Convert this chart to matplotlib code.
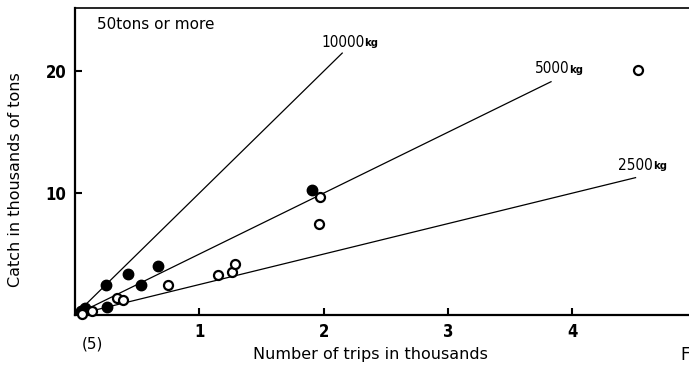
import matplotlib.pyplot as plt
from matplotlib import font_manager

# Catch vs. number of trips, vessels of 50 tons or more
trips_filled = [0.05, 0.08, 0.25, 0.26, 0.43, 0.53, 0.67, 1.91]
catch_filled = [0.35, 0.55, 2.45, 0.65, 3.4, 2.45, 4.0, 10.3]
trips_open = [0.06, 0.14, 0.34, 0.39, 0.75, 1.15, 1.26, 1.29, 1.96, 1.97, 4.53]
catch_open = [0.05, 0.35, 1.4, 1.25, 2.5, 3.3, 3.5, 4.2, 7.5, 9.7, 20.1]

# catch per trip reference lines (tons per trip)
rates = [10, 5, 2.5]
rate_labels = ["10000", "5000", "2500"]
line_end = [2.15, 3.83, 4.51]
label_pos = [(1.98, 22.4), (3.70, 20.2), (4.37, 12.3)]

# pick a condensed face for the numbers if one is around
fonts = font_manager.fontManager.ttflist
narrow = dict(family="DejaVu Sans", stretch="normal")
for f in fonts:
    if f.name == "Liberation Sans Narrow":
        narrow = dict(family=f.name, stretch="normal")
        break
else:
    for f in fonts:
        if f.name == "DejaVu Sans" and "Condensed" in f.fname:
            narrow = dict(family="DejaVu Sans", stretch="condensed")
            break

plt.rcParams['font.family'] = ['DejaVu Sans']

fig = plt.figure(figsize=(6.89, 3.68), dpi=100)
ax = fig.add_axes([75/689, 53/368, 614/689, 307/368])

for r, xe in zip(rates, line_end):
    ax.plot([0, xe], [0, r * xe], color='black', lw=0.9)

ax.plot(trips_filled, catch_filled, 'o', ms=7.5, color='black', clip_on=False, zorder=3)
ax.plot(trips_open, catch_open, 'o', ms=6.5, mfc='white', mec='black', mew=1.6,
        clip_on=False, zorder=3)

for lab, (lx, ly) in zip(rate_labels, label_pos):
    t = ax.text(lx, ly, lab, fontsize=11, va='center', ha='left', **narrow)
    ax.annotate("kg", xy=(1.0, 0.12), xycoords=t, fontsize=8, fontweight='bold',
                va='bottom', ha='left', **narrow)

ax.text(0.036, 0.945, "50tons or more", transform=ax.transAxes, fontsize=11,
        va='center', ha='left')

ax.set_xlim(0, 4.94)
ax.set_ylim(0, 25.2)
ax.set_xticks([1, 2, 3, 4])
ax.set_yticks([10, 20])
ax.tick_params(direction='in', length=5, width=1.5, pad=6)
for lbl in ax.get_xticklabels() + ax.get_yticklabels():
    lbl.set_family(narrow["family"])
    lbl.set_stretch(narrow["stretch"])
    lbl.set_fontsize(12)
    lbl.set_fontweight('bold')

ax.spines['right'].set_visible(False)
ax.spines['left'].set_linewidth(1.6)
ax.spines['bottom'].set_linewidth(1.6)
ax.spines['top'].set_linewidth(1.2)

fig.text(16/689, 1 - 180/368, "Catch in thousands of tons", rotation=90,
         fontsize=11.5, ha='center', va='center')
fig.text(370/689, 1 - 354/368, "Number of trips in thousands", fontsize=11.5,
         ha='center', va='center')
fig.text(92/689, 1 - 344/368, "(5)", fontsize=11, ha='center', va='center')
fig.text(680/689, 1 - 355/368, "F", fontsize=12, ha='left', va='center')

fig.savefig("out.png", dpi=100)
